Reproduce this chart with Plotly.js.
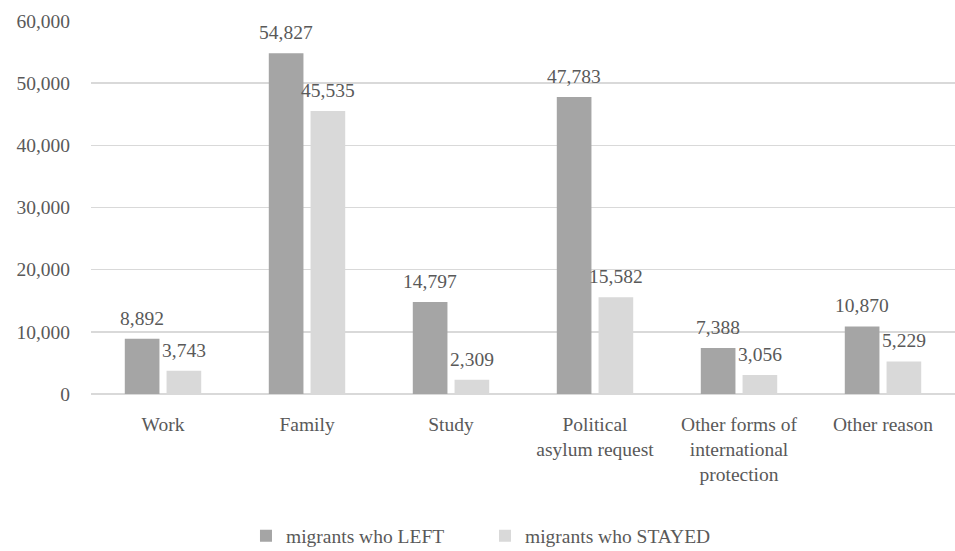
<!DOCTYPE html>
<html>
<head>
<meta charset="utf-8">
<script src="https://cdn.plot.ly/plotly-3.0.1.min.js"></script>
<style>html,body{margin:0;padding:0;background:#fff;}#chart{width:955px;height:551px;}</style>
</head>
<body>
<div id="chart"></div>
<script>
const categories = ["Work", "Family", "Study", "Political<br>asylum request", "Other forms of<br>international<br>protection", "Other reason"];
const seriesNames = ["migrants who LEFT", "migrants who STAYED"];
const leftValues = [8892, 54827, 14797, 47783, 7388, 10870];
const stayedValues = [3743, 45535, 2309, 15582, 3056, 5229];
const yTicks = [0, 10000, 20000, 30000, 40000, 50000, 60000];

const font = {family: "'Liberation Serif', 'Times New Roman', serif", size: 19.5, color: "#595959"};
const colors = ["#a5a5a5", "#d9d9d9"];
const BARGAP = 0.42, GROUPGAP = 0.17;

const traces = [
  {type: "bar", name: seriesNames[0], x: categories, y: leftValues, marker: {color: colors[0]}, hoverinfo: "x+y"},
  {type: "bar", name: seriesNames[1], x: categories, y: stayedValues, marker: {color: colors[1]}, hoverinfo: "x+y"}
];

const margin = {l: 91, r: 0, t: 21, b: 157};
const plotW = 955 - margin.l - margin.r;
const slot = plotW / categories.length * (1 - BARGAP) / 2;
const fmt = v => v.toLocaleString("en-US");
const annotations = [];
[leftValues, stayedValues].forEach((vals, s) => {
  vals.forEach((v, i) => {
    annotations.push({
      x: categories[i], y: v, xref: "x", yref: "y", text: fmt(v), showarrow: false,
      xanchor: "center", yanchor: "bottom", xshift: (s === 0 ? -1 : 1) * slot / 2, yshift: 8,
      font: font
    });
  });
});

const layout = {
  width: 955, height: 551,
  margin: margin,
  paper_bgcolor: "#fff", plot_bgcolor: "#fff",
  font: font,
  barmode: "group", bargap: BARGAP, bargroupgap: GROUPGAP,
  xaxis: {type: "category", tickfont: font, showgrid: false, zeroline: false, showline: false, ticks: "", ticklabelstandoff: 16, automargin: false},
  yaxis: {range: [0, 60000], tickvals: yTicks, tickformat: ",", tickfont: font, showgrid: true, gridcolor: "#d9d9d9", gridwidth: 1.5,
          zeroline: true, zerolinecolor: "#d9d9d9", zerolinewidth: 1.5, showline: false, ticks: "", ticklabelstandoff: 20, automargin: false},
  showlegend: true,
  annotations: annotations,
  legend: {orientation: "h", x: 0.456, xanchor: "center", yref: "container", y: 0.027, yanchor: "middle", font: font, traceorder: "normal", entrywidth: 194}
};

Plotly.newPlot("chart", traces, layout, {displayModeBar: false, staticPlot: true});
</script>
</body>
</html>
